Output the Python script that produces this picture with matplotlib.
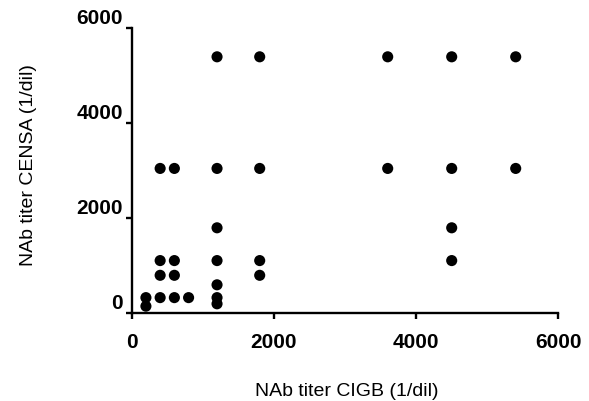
import matplotlib
matplotlib.use("Agg")
import matplotlib.pyplot as plt

# Data: NAb titers (CIGB on x, CENSA on y)
x_cigb = [200, 200,
          400, 400, 400, 400,
          600, 600, 600, 600,
          800,
          1200, 1200, 1200, 1200, 1200, 1200, 1200,
          1800, 1800, 1800, 1800,
          3600, 3600,
          4500, 4500, 4500, 4500,
          5400, 5400]
y_censa = [330, 150,
           3050, 1110, 800, 330,
           3050, 1110, 800, 330,
           330,
           5400, 3050, 1800, 1110, 600, 330, 200,
           5400, 3050, 1110, 800,
           5400, 3050,
           5400, 3050, 1800, 1110,
           5400, 3050]

xticks = [0, 2000, 4000, 6000]
yticks = [0, 2000, 4000, 6000]
xlabel = "NAb titer CIGB (1/dil)"
ylabel = "NAb titer CENSA (1/dil)"

plt.rcParams['font.family'] = ['Liberation Sans', 'DejaVu Sans']

fig = plt.figure(figsize=(5.89, 4.01), dpi=100)
ax = fig.add_axes([0.2236, 0.2187, 0.948 - 0.2236, 0.9294 - 0.2187])

ax.scatter(x_cigb, y_censa, s=64, color='black', edgecolors='none', zorder=3, clip_on=False)

ax.set_xlim(0, 6000)
ax.set_ylim(0, 6000)
ax.set_xticks(xticks)
ax.set_yticks(yticks)
ax.set_xticklabels([str(t) for t in xticks], fontsize=15, fontweight='bold')
ax.set_yticklabels([str(t) for t in yticks], fontsize=15, fontweight='bold')
for lab in ax.get_yticklabels():
    lab.set_va('bottom')

for side in ['top', 'right']:
    ax.spines[side].set_visible(False)
for side in ['left', 'bottom']:
    ax.spines[side].set_linewidth(1.7)

ax.tick_params(axis='both', direction='out', length=4.5, width=1.7, color='black')
ax.tick_params(axis='x', pad=9.5)
ax.tick_params(axis='y', pad=2)

ax.set_xlabel(xlabel, fontsize=14)
ax.set_ylabel(ylabel, fontsize=14)
ax.xaxis.set_label_coords(0.505, -0.245)
ax.yaxis.set_label_coords(-0.222, 0.52)

fig.savefig("out.png", dpi=100)
